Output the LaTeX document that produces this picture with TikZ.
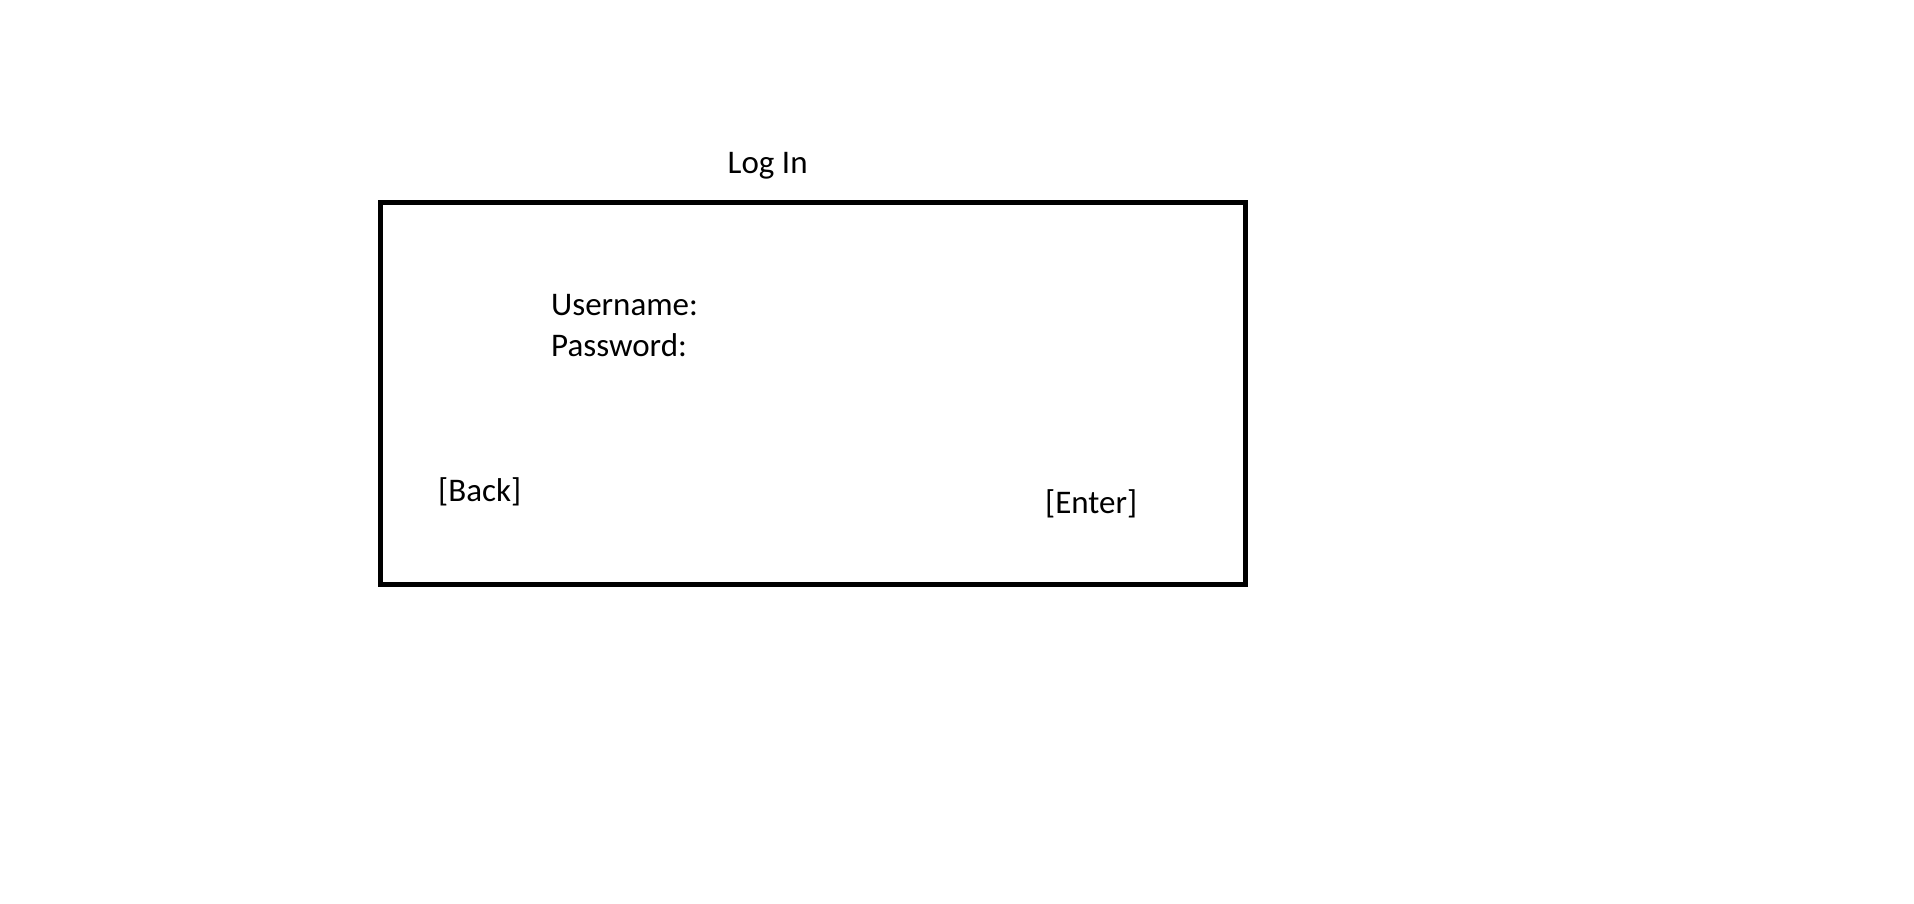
\documentclass[tikz,border=0pt]{standalone}
\usepackage{fontspec}
\setmainfont{Carlito}
\begin{document}
\begin{tikzpicture}[x=1pt,y=-1pt,
  lbl/.style={anchor=base west,inner sep=0pt,font=\fontsize{33}{39}\selectfont},
  frame/.style={draw=black,line width=5pt}]
\useasboundingbox[fill=white] (0,0) rectangle (1914,903);
\draw[frame] (380.5,202.5) rectangle (1245.5,584);
\node[lbl] (title) at (727.5,173) {Log In};
\node[lbl] (user) at (551,315) {Username:};
\node[lbl] (pass) at (551,356) {Password:};
\node[lbl] (back) at (438,501) {[Back]};
\node[lbl] (enter) at (1045,513) {[Enter]};
\end{tikzpicture}
\end{document}
